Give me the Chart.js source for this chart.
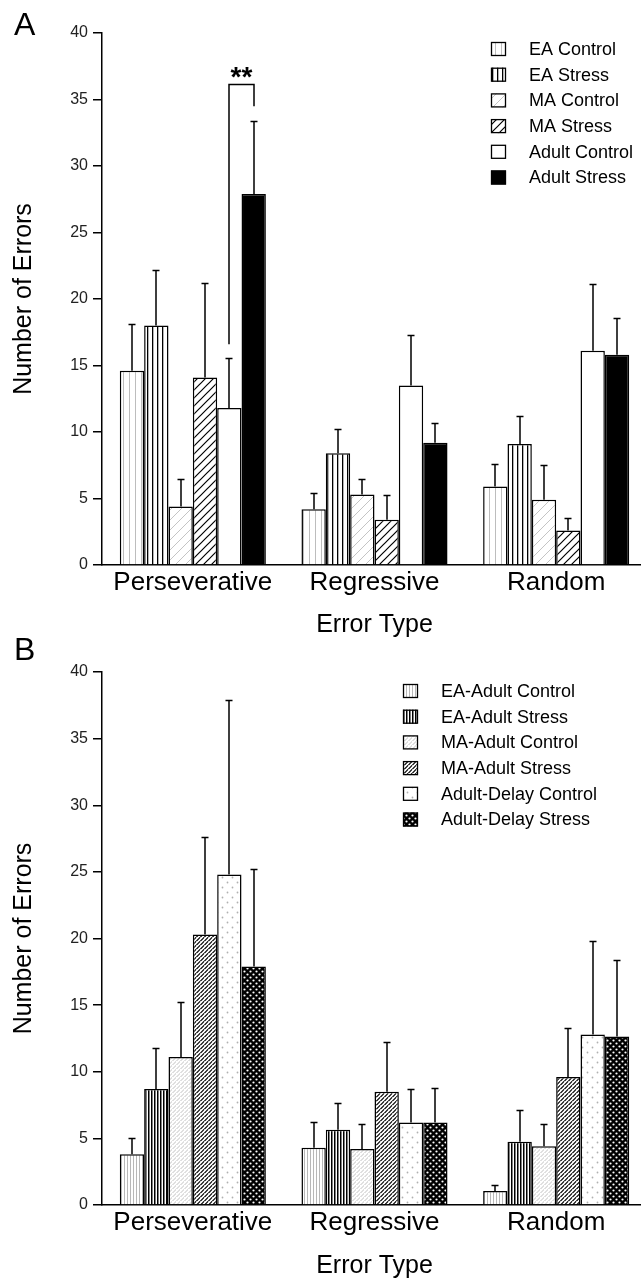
<!DOCTYPE html>
<html>
<head>
<meta charset="utf-8">
<script src="https://cdn.jsdelivr.net/npm/chart.js@4.4.1/dist/chart.umd.min.js"></script>
<style>
  html, body { margin: 0; padding: 0; background: #fff; overflow: hidden; width: 641px; height: 1281px; }
  canvas { display: block; position: absolute; left: 0; }
  #chartA { top: 0; }
  #chartB { top: 625px; }
</style>
</head>
<body>
<canvas id="chartA" width="647" height="640"></canvas>
<canvas id="chartB" width="647" height="656"></canvas>
<script>
// ---------- DATA ----------
const errorTypes = ['Perseverative', 'Regressive', 'Random'];
const yMax = 40;
const yStep = 5;

// panel A: means (Perseverative, Regressive, Random)
const labelsA = ['EA Control', 'EA Stress', 'MA Control', 'MA Stress', 'Adult Control', 'Adult Stress'];
const eaControlA    = [14.6, 4.2, 5.9];
const eaStressA     = [18.0, 8.4, 9.1];
const maControlA    = [4.4, 5.3, 4.9];
const maStressA     = [14.1, 3.4, 2.6];
const adultControlA = [11.8, 13.5, 16.1];
const adultStressA  = [27.9, 9.2, 15.8];
// panel A: error bars (upper, SEM)
const eaControlErrA    = [3.5, 1.25, 1.7];
const eaStressErrA     = [4.2, 1.8, 2.1];
const maControlErrA    = [2.1, 1.2, 2.6];
const maStressErrA     = [7.1, 1.9, 0.9];
const adultControlErrA = [3.8, 3.8, 5.0];
const adultStressErrA  = [5.5, 1.5, 2.8];
// significance bracket (Perseverative, Adult Control vs Adult Stress)
const sigCategory = 0;
const sigFrom = 4, sigTo = 5;
const sigLevels = [16.6, 36.2, 34.5]; // left end, top, right end
const sigText = '**';

// panel B
const labelsB = ['EA-Adult Control', 'EA-Adult Stress', 'MA-Adult Control', 'MA-Adult Stress', 'Adult-Delay Control', 'Adult-Delay Stress'];
const eaAdultControlB    = [3.8, 4.3, 1.05];
const eaAdultStressB     = [8.7, 5.65, 4.75];
const maAdultControlB    = [11.1, 4.2, 4.4];
const maAdultStressB     = [20.3, 8.5, 9.6];
const adultDelayControlB = [24.8, 6.2, 12.8];
const adultDelayStressB  = [17.9, 6.2, 12.65];
const eaAdultControlErrB    = [1.2, 1.9, 0.45];
const eaAdultStressErrB     = [3.1, 2.0, 2.4];
const maAdultControlErrB    = [4.1, 1.9, 1.7];
const maAdultStressErrB     = [7.3, 3.7, 3.7];
const adultDelayControlErrB = [13.1, 2.5, 7.0];
const adultDelayStressErrB  = [7.3, 2.6, 5.7];

// ---------- patterns ----------
const FONT = "'Liberation Sans', Arial, Helvetica, sans-serif";

function makePattern(size, bg, draw){
  const c = document.createElement('canvas');
  c.width = size; c.height = size;
  const g = c.getContext('2d');
  g.fillStyle = bg; g.fillRect(0, 0, size, size);
  draw(g, size);
  return g.createPattern(c, 'repeat');
}
function vLines(fg, s, lw){
  return makePattern(s, '#fff', (g, s) => { g.fillStyle = fg; g.fillRect(Math.floor(s/2), 0, lw, s); });
}
function dLines(fg, s, lw){
  return makePattern(s, '#fff', (g, s) => {
    g.strokeStyle = fg; g.lineWidth = lw;
    g.beginPath();
    g.moveTo(-s, s); g.lineTo(s, -s);
    g.moveTo(-1, s + 1); g.lineTo(s + 1, -1);
    g.moveTo(0, 2*s); g.lineTo(2*s, 0);
    g.stroke();
  });
}
function dots(bg, fg, s, r){
  return makePattern(s, bg, (g, s) => {
    g.fillStyle = fg;
    [[s/4, s/4], [3*s/4, 3*s/4]].forEach(([x, y]) => { g.beginPath(); g.arc(x, y, r, 0, Math.PI*2); g.fill(); });
  });
}

const fillsA = [
  vLines('#bdbdbd', 6, 1),
  vLines('#000', 5, 1.3),
  dLines('#c4c4c4', 10, 1),
  dLines('#000', 8, 1.2),
  '#fff',
  '#000'
];
const fillsB = [
  vLines('#b8b8b8', 3, 1),
  vLines('#000', 3, 1.5),
  dLines('#c0c0c0', 4.5, 1),
  dLines('#000', 4.5, 1.2),
  dots('#fff', '#b0b0b0', 10, 0.9),
  dots('#000', '#fff', 6, 1.1)
];

// ---------- plugins ----------
const errorBars = {
  id: 'errorBars',
  afterDatasetsDraw(chart){
    const ctx = chart.ctx, y = chart.scales.y;
    ctx.save();
    ctx.strokeStyle = '#000'; ctx.lineWidth = 1.5;
    chart.data.datasets.forEach((ds, i) => {
      chart.getDatasetMeta(i).data.forEach((bar, j) => {
        const top = Math.round(y.getPixelForValue(ds.data[j] + ds.errors[j])) + 0.5;
        const x = Math.round(bar.x);
        ctx.beginPath();
        ctx.moveTo(x, bar.y); ctx.lineTo(x, top);
        ctx.moveTo(x - 3.5, top); ctx.lineTo(x + 3.5, top);
        ctx.stroke();
      });
    });
    ctx.restore();
  }
};

const boxLegend = {
  id: 'boxLegend',
  afterDraw(chart, args, opts){
    const ctx = chart.ctx;
    ctx.save();
    ctx.font = `18px ${FONT}`;
    ctx.textBaseline = 'middle';
    chart.data.datasets.forEach((ds, i) => {
      const cy = opts.top + i * opts.gap;
      ctx.fillStyle = ds.backgroundColor;
      ctx.fillRect(opts.boxX, cy - 7, 15, 14);
      ctx.strokeStyle = '#000'; ctx.lineWidth = 1.3;
      ctx.strokeRect(opts.boxX + 0.5, cy - 6.5, 14, 13);
      ctx.fillStyle = '#000';
      ctx.fillText(ds.label, opts.textX, cy + 1);
    });
    ctx.restore();
  }
};

const panelLetter = {
  id: 'panelLetter',
  afterDraw(chart, args, opts){
    const ctx = chart.ctx;
    ctx.save();
    ctx.font = `32px ${FONT}`;
    ctx.fillStyle = '#000';
    ctx.textBaseline = 'alphabetic';
    ctx.fillText(opts.text, opts.x, opts.y);
    ctx.restore();
  }
};

const sigBracket = {
  id: 'sigBracket',
  afterDatasetsDraw(chart){
    const ctx = chart.ctx, y = chart.scales.y;
    const x1 = Math.round(chart.getDatasetMeta(sigFrom).data[sigCategory].x);
    const x2 = Math.round(chart.getDatasetMeta(sigTo).data[sigCategory].x);
    const yL = y.getPixelForValue(sigLevels[0]);
    const yT = Math.round(y.getPixelForValue(sigLevels[1])) + 0.5;
    const yR = y.getPixelForValue(sigLevels[2]);
    ctx.save();
    ctx.strokeStyle = '#000'; ctx.lineWidth = 1.5;
    ctx.beginPath();
    ctx.moveTo(x1, yL); ctx.lineTo(x1, yT); ctx.lineTo(x2, yT); ctx.lineTo(x2, yR);
    ctx.stroke();
    ctx.font = `bold 28px ${FONT}`;
    ctx.fillStyle = '#000';
    ctx.textAlign = 'center';
    ctx.textBaseline = 'alphabetic';
    ctx.fillText(sigText, (x1 + x2) / 2, yT + 1);
    ctx.restore();
  }
};

// ---------- chart builder ----------
function buildChart(id, labels, values, errors, fills, topPad, axisHeight, legendOpts, letterOpts, extra){
  const datasets = labels.map((lab, i) => ({
    label: lab,
    data: values[i],
    errors: errors[i],
    backgroundColor: fills[i],
    borderColor: '#000',
    borderWidth: 1.5
  }));
  return new Chart(document.getElementById(id), {
    type: 'bar',
    data: { labels: errorTypes, datasets },
    plugins: [errorBars, boxLegend, panelLetter].concat(extra || []),
    options: {
      responsive: false,
      animation: false,
      devicePixelRatio: 1,
      layout: { padding: { top: topPad, left: 0, right: 0, bottom: 0 } },
      datasets: { bar: { categoryPercentage: 0.804, barPercentage: 1.0 } },
      plugins: {
        legend: { display: false },
        tooltip: { enabled: false },
        boxLegend: legendOpts,
        panelLetter: letterOpts
      },
      scales: {
        x: {
          grid: { display: false, drawTicks: false },
          border: { display: true, color: '#000', width: 1.5 },
          ticks: { color: '#000', font: { family: FONT, size: 26 }, padding: 2 },
          title: { display: true, text: 'Error Type', color: '#000', font: { family: FONT, size: 25 }, padding: { top: 0, bottom: 0 } },
          afterFit: s => { s.height = axisHeight; }
        },
        y: {
          min: 0, max: yMax,
          ticks: { stepSize: yStep, color: '#222', font: { family: FONT, size: 16 }, padding: 5 },
          grid: { drawOnChartArea: false, tickLength: 9, color: '#000', lineWidth: 1.5 },
          border: { display: true, color: '#000', width: 1.5 },
          title: { display: true, text: 'Number of Errors', color: '#000', font: { family: FONT, size: 25 }, padding: { top: 9, bottom: 0 } },
          afterFit: s => { s.width = 102; }
        }
      }
    }
  });
}

buildChart('chartA', labelsA,
  [eaControlA, eaStressA, maControlA, maStressA, adultControlA, adultStressA],
  [eaControlErrA, eaStressErrA, maControlErrA, maStressErrA, adultControlErrA, adultStressErrA],
  fillsA, 33, 75,
  { boxX: 491, textX: 529, top: 49, gap: 25.7 },
  { text: 'A', x: 14, y: 35 },
  [sigBracket]);

buildChart('chartB', labelsB,
  [eaAdultControlB, eaAdultStressB, maAdultControlB, maAdultStressB, adultDelayControlB, adultDelayStressB],
  [eaAdultControlErrB, eaAdultStressErrB, maAdultControlErrB, maAdultStressErrB, adultDelayControlErrB, adultDelayStressErrB],
  fillsB, 47, 76,
  { boxX: 403, textX: 441, top: 66, gap: 25.7 },
  { text: 'B', x: 14, y: 35 });
</script>
</body>
</html>
